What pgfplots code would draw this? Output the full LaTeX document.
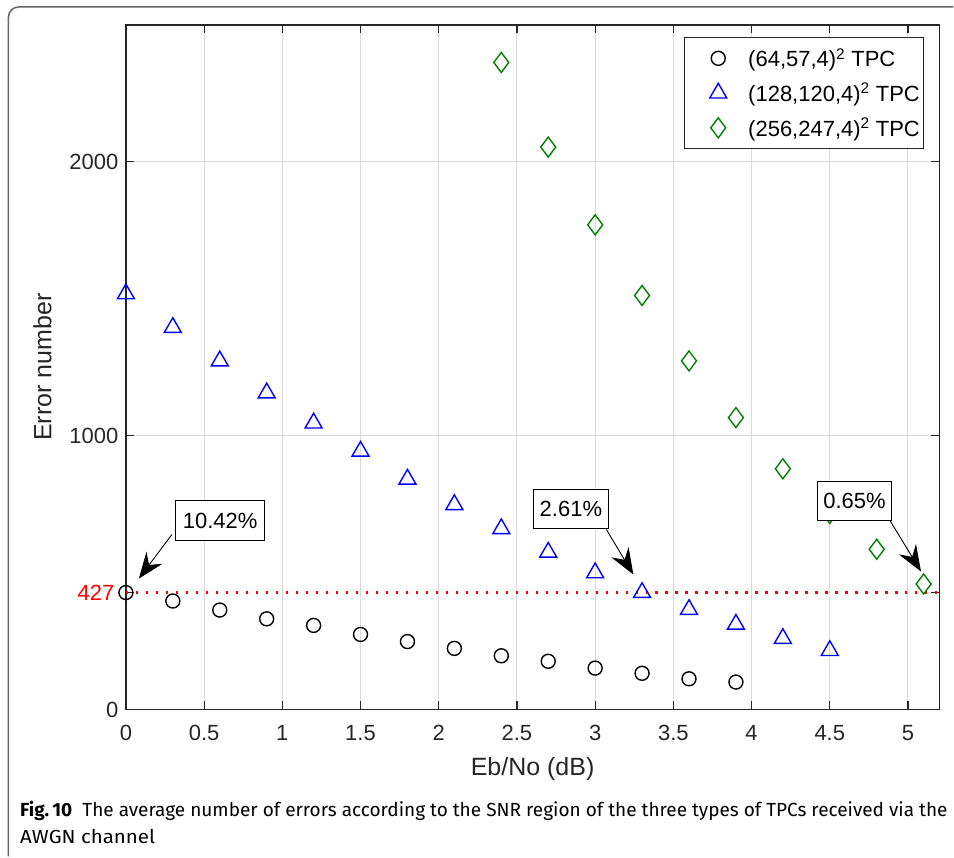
\documentclass[border=0pt]{standalone}
\usepackage{pgfplots}
\pgfplotsset{compat=1.18}
\usepackage{fontspec}
\usepackage{graphicx}
\setmainfont{Liberation Sans}
\newfontfamily\capfont{Fira Sans}
\usetikzlibrary{arrows.meta}
\definecolor{mgreen}{RGB}{0,128,0}
\definecolor{axgray}{RGB}{38,38,38}
\pgfplotsset{mylegimg/.style={legend image code/.code={\path[draw=none,fill=none] (-20pt,-2pt) rectangle (40pt,2pt); \draw[##1] plot[only marks] coordinates {(12pt,0pt)};}}}
\begin{document}
\begin{tikzpicture}[x=1pt,y=1pt]
\path (0,0) rectangle (954,857);
\draw[black!60, line width=1.5pt] (8.5,0) -- (8.5,840) arc[start angle=180,end angle=90,radius=10] -- (954,850);
\begin{axis}[
  at={(126pt,147pt)}, anchor=south west,
  scale only axis, width=814pt, height=685pt,
  xmin=0, xmax=5.2, ymin=0, ymax=2500,
  xtick={0,0.5,1,1.5,2,2.5,3,3.5,4,4.5,5},
  xticklabels={0,0.5,1,1.5,2,2.5,3,3.5,4,4.5,5},
  ytick={0,1000,2000},
  yticklabels={0,1000,2000},
  extra y ticks={427},
  extra y tick labels={\textcolor{red}{427}},
  extra y tick style={grid=none, yticklabel style={xshift=-4pt}},
  tick align=inside,
  major tick length=8pt,
  tick style={axgray, line width=1.2pt},
  axis line style={axgray, line width=1.5pt},
  grid=major,
  major grid style={black!15, line width=1pt},
  ticklabel style={font=\fontsize{22}{22}\selectfont, text=axgray},
  /pgf/number format/assume math mode=true,
  xticklabel style={yshift=-12pt},
  yticklabel style={xshift=-4pt},
  xlabel={Eb/No (dB)},
  ylabel={Error number},
  every axis x label/.style={at={(axis description cs:0.5,-0.0876)}, anchor=center, font=\fontsize{25}{25}\selectfont, text=axgray},
  every axis y label/.style={at={(axis description cs:-0.1026,0.5)}, rotate=90, anchor=center, font=\fontsize{25}{25}\selectfont, text=axgray},
  legend style={at={(0.9816,0.9825)}, anchor=north east, draw=axgray, line width=1pt,
    font=\fontsize{22}{22}\selectfont, inner xsep=2pt, inner ysep=9pt, row sep=11pt,
    cells={anchor=west}},
  clip=false,
]
\addplot[red, line width=2.2pt, dash pattern=on 2.2pt off 7.8pt, forget plot] coordinates {(0,427) (5.2,427)};
\addplot[only marks, mark=o, mark size=7pt, black, line width=1.4pt, mylegimg] coordinates {
(0,427) (0.3,396) (0.6,363) (0.9,331) (1.2,307) (1.5,274) (1.8,248) (2.1,223)
(2.4,196) (2.7,176) (3.0,151) (3.3,132) (3.6,112) (3.9,100)};
\addlegendentry{(64,57,4)\textsuperscript{2} TPC}
\addplot[only marks, mark=triangle, mark size=9.8pt, blue, line width=1.4pt, mylegimg] coordinates {
(0,1518) (0.3,1395) (0.6,1273) (0.9,1156) (1.2,1046) (1.5,943) (1.8,841) (2.1,748)
(2.4,660) (2.7,574) (3.0,499) (3.3,427) (3.6,365) (3.9,311) (4.2,259) (4.5,215)};
\addlegendentry{(128,120,4)\textsuperscript{2} TPC}
\addplot[only marks, mark=diamond, mark size=10pt, mgreen, line width=1.4pt, mylegimg] coordinates {
(2.4,2363) (2.7,2054) (3.0,1770) (3.3,1512) (3.6,1273) (3.9,1066) (4.2,879)
(4.5,716) (4.8,585) (5.1,458)};
\addlegendentry{(256,247,4)\textsuperscript{2} TPC}
\coordinate (s1) at (axis cs:0.294,639);
\coordinate (t1) at (axis cs:0.083,478);
\coordinate (s2) at (axis cs:3.072,657);
\coordinate (t2) at (axis cs:3.244,493);
\coordinate (s3) at (axis cs:4.885,690);
\coordinate (t3) at (axis cs:5.083,504);
\coordinate (b1) at (axis cs:0.603,690);
\coordinate (b2) at (axis cs:2.845,732);
\coordinate (b3) at (axis cs:4.658,761);
\end{axis}
\foreach \s/\t in {s1/t1, s2/t2, s3/t3}
  \draw[black, line width=0.9pt, -{Stealth[length=26pt,width=20pt,inset=9pt]}] (\s) -- (\t);
\node[draw=black, fill=white, line width=1pt, font=\fontsize{22}{22}\selectfont, minimum width=89pt, minimum height=40pt, inner sep=0pt] at (b1) {10.42\%};
\node[draw=black, fill=white, line width=1pt, font=\fontsize{22}{22}\selectfont, minimum width=75pt, minimum height=39pt, inner sep=0pt] at (b2) {2.61\%};
\node[draw=black, fill=white, line width=1pt, font=\fontsize{22}{22}\selectfont, minimum width=75pt, minimum height=39pt, inner sep=0pt] at (b3) {0.65\%};
\node[anchor=base west, inner sep=0pt] at (20,40) {\resizebox{928pt}{\height}{\capfont\fontsize{19}{19}\selectfont\textbf{Fig.\,10}\ \ The average number of errors according to the SNR region of the three types of TPCs received via the}};
\node[anchor=base west, inner sep=0pt] at (20,13) {\resizebox{135pt}{\height}{\capfont\fontsize{19}{19}\selectfont AWGN channel}};
\end{tikzpicture}
\end{document}
